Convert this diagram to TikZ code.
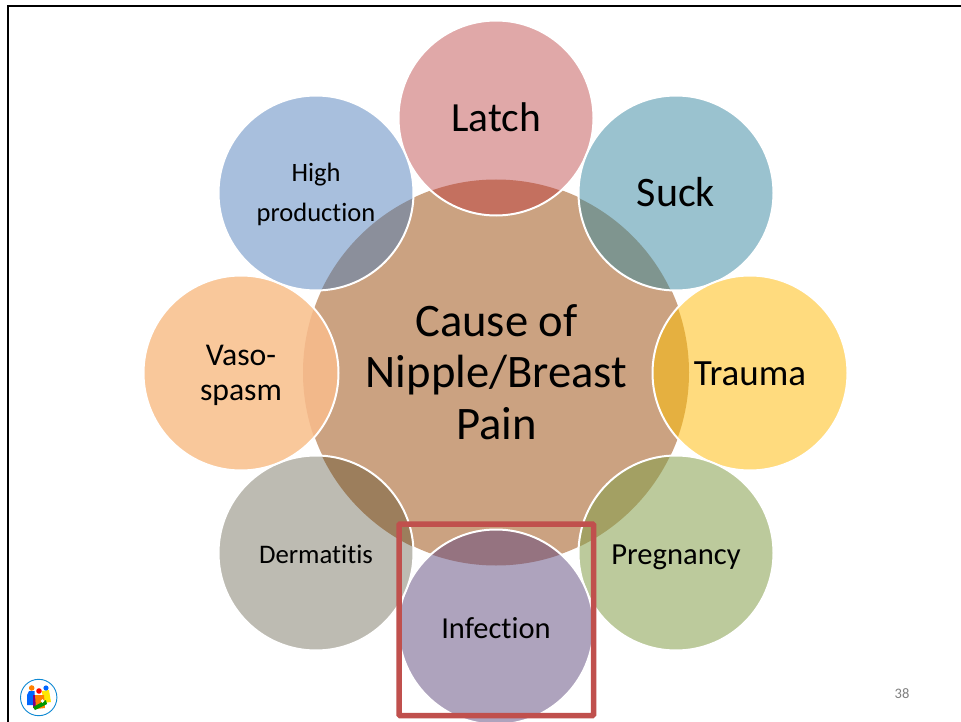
\documentclass[tikz,border=0pt]{standalone}
\usepackage{fontspec}
\setmainfont[Ligatures=NoCommon]{Carlito}
\definecolor{cCenter}{HTML}{CBA281}
\definecolor{cLatch}{HTML}{E0A8A8}
\definecolor{cSuck}{HTML}{9AC2CF}
\definecolor{cTrauma}{HTML}{FFDB7E}
\definecolor{cPreg}{HTML}{BCCA9C}
\definecolor{cInf}{HTML}{AEA3BD}
\definecolor{cDerm}{HTML}{BDBBB2}
\definecolor{cVaso}{HTML}{F9C89B}
\definecolor{cHigh}{HTML}{A8BFDD}
\definecolor{lLatch}{HTML}{C4705F}
\definecolor{lSuck}{HTML}{7F958F}
\definecolor{lTrauma}{HTML}{E5B040}
\definecolor{lPreg}{HTML}{A3A063}
\definecolor{lInf}{HTML}{957380}
\definecolor{lDerm}{HTML}{9C7E5C}
\definecolor{lVaso}{HTML}{F2B88A}
\definecolor{lHigh}{HTML}{8B8F9B}
\definecolor{cRed}{HTML}{C0504D}
\definecolor{cNum}{HTML}{7F7F7F}
\newcommand{\fs}[2]{\fontsize{#1}{#2}\selectfont}
\newcommand{\petal}[7]{% name, x, y, fill, lens, font, text
  \node[petal, fill=#4, font=#6] (#1) at (#2,#3) {#7};
  \begin{scope}
    \clip (#2,#3) circle (97.5);
    \fill[#5] (496,372.5) circle (193);
  \end{scope}
  \draw[white, line width=2pt] (#2,#3) circle (97.5);
}
\newcommand{\lh}{\rule[-0.2em]{0pt}{1.05em}}
\newcommand{\sh}{\rule[-0.2em]{0pt}{1.15em}}
\tikzset{
  x=1pt, y=-1pt,
  petal/.style={circle, minimum size=195pt, inner sep=0pt, align=center, text=black},
  hub/.style={circle, minimum size=386pt, inner sep=0pt, align=center, fill=cCenter, text=black, font=\fs{46.6}{51.5}},
  highlight/.style={draw=cRed, line width=5.5pt, rounded corners=1pt},
  frameline/.style={draw=black, line width=2.6pt},
}
\begin{document}
\begin{tikzpicture}
\useasboundingbox (0,0) rectangle (961,722);
\clip (0,0) rectangle (961,722);
\fill[white] (0,0) rectangle (961,722);
\draw[frameline] (8,724) -- (8,6) -- (963,6);
\node[hub] (center) at (496.5,372) {Cause of\\Nipple/Breast\\Pain};
\petal{latch}{496}{118}{cLatch}{lLatch}{\fs{41.5}{44}}{\lh Latch}
\petal{suck}{676}{193}{cSuck}{lSuck}{\fs{42}{44}}{\lh Suck}
\petal{trauma}{750}{373}{cTrauma}{lTrauma}{\fs{37}{40}}{\lh Trauma}
\petal{pregnancy}{676}{553}{cPreg}{lPreg}{\fs{30.6}{36}}{\sh Pregnancy}
\petal{infection}{496}{627}{cInf}{lInf}{\fs{30.5}{36}}{\sh Infection}
\petal{dermatitis}{316}{553}{cDerm}{lDerm}{\fs{26.8}{32}}{\sh Dermatitis}
\petal{vaso}{241}{373}{cVaso}{lVaso}{\fs{31.7}{35.5}}{\rule{0pt}{25pt}Vaso-\\spasm}
\petal{high}{316}{193}{cHigh}{lHigh}{\fs{26.5}{40}}{\rule{0pt}{22pt}High\\production}
\draw[highlight] (399,524) rectangle (593.5,715.5);
\node[text=cNum, inner sep=0pt] (pagenum) at (902,694) {\fs{14.5}{16}38};
% logo
\begin{scope}
\fill[blue!60!cyan] (27,695) -- (29,691) -- (34.5,691) -- (35,705) -- (27,705) -- cycle;
\fill[yellow!90!orange] (42,691) -- (49,690) -- (51,702) -- (43,703) -- cycle;
\fill[violet] (33,695) -- (37,695) -- (37,708) -- (33,708) -- cycle;
\fill[orange] (35,695) -- (44,695) -- (45,708) -- (36,709) -- cycle;
\fill[green!60!black] (33,707) -- (46,700) -- (47,704) -- (35,710) -- cycle;
\fill[white] (42.5,701) circle (1.8);
\fill[orange] (31.7,688) circle (2.8);
\fill[red] (39,691) circle (2.8);
\fill[blue!60!cyan] (46,688) circle (2.6);
\draw[cyan!70!blue, line width=0.9pt] (38.7,697.5) circle (18.2);
\end{scope}
\end{tikzpicture}
\end{document}
